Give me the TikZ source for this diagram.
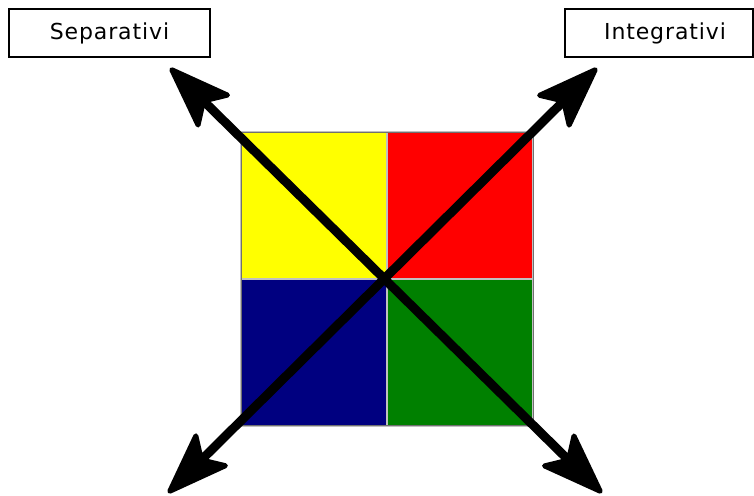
\documentclass[tikz,border=0pt]{standalone}
\usepackage{fontspec}
\setmainfont{DejaVu Sans}
\usetikzlibrary{calc}
\definecolor{sepyellow}{HTML}{FFFF00}
\definecolor{intred}{HTML}{FF0000}
\definecolor{navyq}{HTML}{000080}
\definecolor{greenq}{HTML}{008000}
\definecolor{gridgray}{HTML}{C0C0C0}
\definecolor{edgegray}{HTML}{707070}

% arrow head with its tip at #1, pointing away from #2
\newcommand{\headat}[2]{%
    \filldraw[line width=5pt, line join=round]
        ($(#1)!2.5pt!(#2)$) -- ($(#1)!60pt!(#2)!21pt!90:(#1)$) -- ($(#1)!47pt!(#2)$)
        -- ($(#1)!60pt!(#2)!21pt!-90:(#1)$) -- cycle;}

\tikzset{
    quad/.style={draw=gridgray, line width=2pt, minimum width=146pt, minimum height=147pt, inner sep=0pt, outer sep=0pt},
    labelbox/.style={draw=black, line width=1.2pt, minimum height=48pt, inner sep=0pt, font=\fontsize{22}{26}\selectfont\addfontfeature{LetterSpace=4}},
    shaft/.style={line width=9pt, shorten <=30pt, shorten >=30pt}
}

\begin{document}
\begin{tikzpicture}[x=1pt, y=1pt]
    \useasboundingbox (0,0) rectangle (754,-495);

    % the four quadrants
    \node[quad, fill=sepyellow] (yq) at (314,-205.5) {};
    \node[quad, fill=intred] (rq) at (460,-205.5) {};
    \node[quad, fill=navyq] (bq) at (314,-352) {};
    \node[quad, fill=greenq] (gq) at (460,-352) {};
    \draw[edgegray, line width=1pt] (yq.north west) rectangle (gq.south east);

    % labels
    \node[labelbox, minimum width=201pt] (sep) at (109.5,-33) {Separativi};
    \node[labelbox, minimum width=188pt] (integ) at (659,-33) {\hspace*{12pt}Integrativi};

    % arrows
    \coordinate (tl) at (170,-68);
    \coordinate (br) at (602,-493);
    \coordinate (bl) at (168,-493);
    \coordinate (tr) at (597,-68);
    \draw[shaft] (tl) -- (br);
    \draw[shaft] (bl) -- (tr);
    \headat{tl}{br}
    \headat{br}{tl}
    \headat{bl}{tr}
    \headat{tr}{bl}
\end{tikzpicture}
\end{document}
